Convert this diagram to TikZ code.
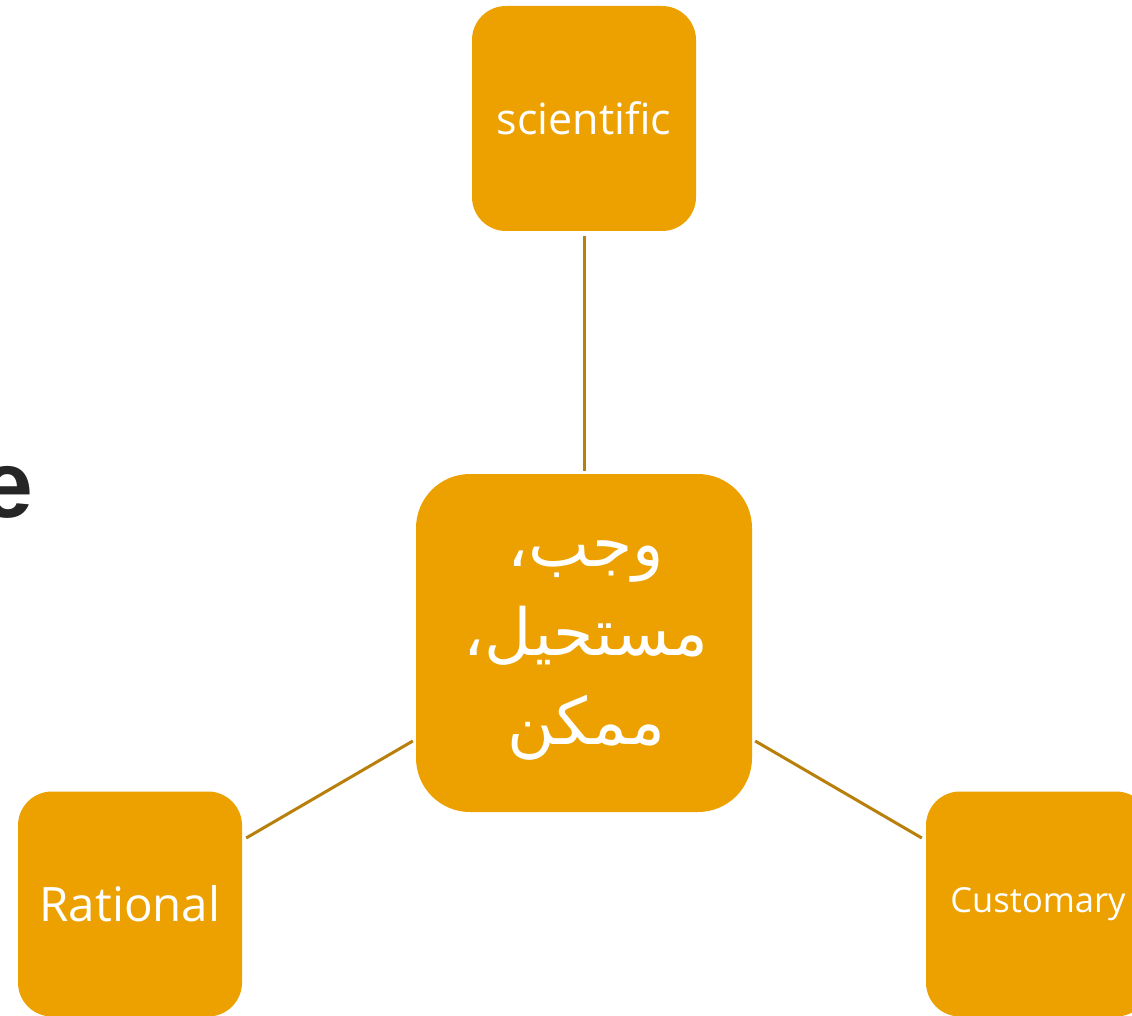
\documentclass[tikz,border=0pt]{standalone}
\usepackage{fontspec}
\setmainfont{Liberation Sans}
\newfontfamily\boxfont{Open Sans}
\newfontfamily\arabicfont[Script=Arabic]{DejaVu Sans}
\TeXXeTstate=1
\definecolor{boxfill}{HTML}{ECA100}
\definecolor{linkcol}{HTML}{B8800A}
\definecolor{titlecol}{HTML}{262626}
\tikzset{
  smallbox/.style={fill=boxfill, draw=none, rounded corners=34pt, minimum width=224pt, minimum height=225pt, inner sep=0pt, text=white},
  bigbox/.style={fill=boxfill, draw=none, rounded corners=54pt, minimum width=336pt, minimum height=338pt, inner sep=0pt, text=white},
  link/.style={draw=linkcol, line width=3pt}
}
\begin{document}
\begin{tikzpicture}[x=1pt,y=-1pt]
\useasboundingbox (0,0) rectangle (1132,1016);
\begin{scope}
\clip (0,0) rectangle (1132,1016);
\node[smallbox, font=\boxfont\fontsize{43}{50}\selectfont] (sci) at (584,118.5) {scientific};
\node[bigbox] (ctr) at (584,643) {};
\node[inner sep=0pt, text=white, align=center, font=\arabicfont\fontsize{65}{89}\selectfont] (ctrtext) at (586,650) {\beginR وجب،\endR\\\beginR مستحيل،\endR\\\beginR ممكن\endR};
\node[smallbox, font=\boxfont\fontsize{47.5}{50}\selectfont] (rat) at (130,904) {Rational};
\node[smallbox, font=\boxfont\fontsize{34.5}{40}\selectfont] (cus) at (1038,904) {Customary};
\node[anchor=base east, inner sep=0pt, text=titlecol, font=\fontsize{95}{100}\selectfont\bfseries] (ttl) at (34,517) {e};
\end{scope}
\coordinate (sciB) at ([yshift=-5pt]sci.south);
\coordinate (ctrT) at ([yshift=3pt]ctr.north);
\coordinate (ctrL) at ([xshift=-3pt,yshift=-98pt]ctr.west);
\coordinate (ctrR) at ([xshift=3pt,yshift=-98pt]ctr.east);
\coordinate (ratR) at ([xshift=4pt,yshift=66pt]rat.east);
\coordinate (cusL) at ([xshift=-4pt,yshift=66pt]cus.west);
\draw[link] (sciB) -- (ctrT);
\draw[link] (ctrL) -- (ratR);
\draw[link] (ctrR) -- (cusL);
\end{tikzpicture}
\end{document}
